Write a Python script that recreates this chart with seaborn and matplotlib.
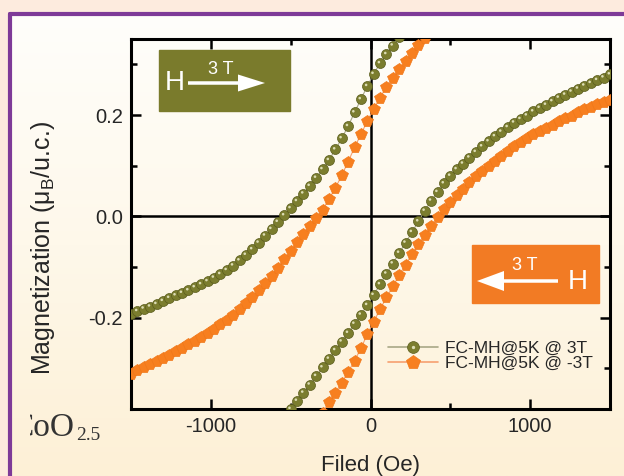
import numpy as np
import pandas as pd
import matplotlib
matplotlib.use("Agg")
import matplotlib.pyplot as plt
import seaborn as sns
from matplotlib.patches import Rectangle, FancyArrow
from matplotlib.lines import Line2D
from matplotlib.colors import LinearSegmentedColormap
from matplotlib.transforms import Affine2D, Bbox, TransformedBbox, offset_copy
from matplotlib.ticker import MultipleLocator, FormatStrFormatter

# ---------------------------------------------------------------- data
# FC-MH @ 5 K, cooled in +3 T : descending (upper) branch
field_p3T_down = [-1500, -1460, -1420, -1380, -1340, -1300, -1260, -1220, -1180, -1140,
                  -1100, -1060, -1020, -980, -940, -900, -860, -820, -780, -740,
                  -700, -660, -620, -580, -540, -500, -460, -420, -380, -340,
                  -300, -260, -220, -180, -140, -100, -60, -20, 20, 60,
                  100, 140, 180, 220]
m_p3T_down = [-0.192, -0.187, -0.182, -0.178, -0.173, -0.167, -0.161, -0.156, -0.151, -0.146,
              -0.140, -0.134, -0.128, -0.121, -0.114, -0.106, -0.097, -0.087, -0.076, -0.065,
              -0.052, -0.038, -0.025, -0.011, 0.002, 0.016, 0.030, 0.045, 0.060, 0.076,
              0.093, 0.111, 0.132, 0.154, 0.178, 0.205, 0.231, 0.257, 0.281, 0.302,
              0.320, 0.337, 0.354, 0.372]

# +3 T : ascending (lower) branch
field_p3T_up = [-540, -500, -460, -420, -380, -340, -300, -260, -220, -180,
                -140, -100, -60, -20, 20, 60, 100, 140, 180, 220,
                260, 300, 340, 380, 420, 460, 500, 540, 580, 620,
                660, 700, 740, 780, 820, 860, 900, 940, 980, 1020,
                1060, 1100, 1140, 1180, 1220, 1260, 1300, 1340, 1380, 1420,
                1460, 1500]
m_p3T_up = [-0.396, -0.380, -0.364, -0.348, -0.332, -0.315, -0.298, -0.281, -0.264, -0.247,
            -0.230, -0.212, -0.194, -0.175, -0.155, -0.134, -0.113, -0.093, -0.072, -0.052,
            -0.031, -0.010, 0.011, 0.031, 0.048, 0.065, 0.080, 0.093, 0.104, 0.116,
            0.127, 0.138, 0.148, 0.158, 0.167, 0.176, 0.185, 0.192, 0.199, 0.207,
            0.214, 0.220, 0.227, 0.234, 0.240, 0.246, 0.252, 0.258, 0.263, 0.269,
            0.274, 0.280]

# FC-MH @ 5 K, cooled in -3 T : descending branch
field_m3T_down = [-1500, -1460, -1420, -1380, -1340, -1300, -1260, -1220, -1180, -1140,
                  -1100, -1060, -1020, -980, -940, -900, -860, -820, -780, -740,
                  -700, -660, -620, -580, -540, -500, -460, -420, -380, -340,
                  -300, -260, -220, -180, -140, -100, -60, -20, 20, 60,
                  100, 140, 180, 220, 260, 300, 340, 380]
m_m3T_down = [-0.310, -0.304, -0.298, -0.292, -0.285, -0.279, -0.273, -0.266, -0.259, -0.252,
              -0.245, -0.238, -0.230, -0.222, -0.213, -0.204, -0.194, -0.183, -0.171, -0.159,
              -0.146, -0.132, -0.117, -0.102, -0.085, -0.068, -0.051, -0.034, -0.018, -0.003,
              0.013, 0.034, 0.056, 0.081, 0.108, 0.136, 0.162, 0.188, 0.212, 0.234,
              0.256, 0.274, 0.290, 0.306, 0.322, 0.338, 0.352, 0.366]

# -3 T : ascending branch
field_m3T_up = [-340, -300, -260, -220, -180, -140, -100, -60, -20, 20,
                60, 100, 140, 180, 220, 260, 300, 340, 380, 420,
                460, 500, 540, 580, 620, 660, 700, 740, 780, 820,
                860, 900, 940, 980, 1020, 1060, 1100, 1140, 1180, 1220,
                1260, 1300, 1340, 1380, 1420, 1460, 1500]
m_m3T_up = [-0.407, -0.387, -0.367, -0.348, -0.328, -0.307, -0.285, -0.260, -0.233, -0.208,
            -0.183, -0.160, -0.138, -0.116, -0.095, -0.075, -0.055, -0.037, -0.019, -0.002,
            0.014, 0.028, 0.042, 0.055, 0.068, 0.079, 0.090, 0.100, 0.110, 0.120,
            0.129, 0.138, 0.146, 0.154, 0.162, 0.169, 0.175, 0.181, 0.188, 0.194,
            0.199, 0.205, 0.211, 0.216, 0.221, 0.225, 0.230]

series_labels = ["FC-MH@5K @ 3T", "FC-MH@5K @ -3T"]
x_ticks = [-1000, 0, 1000]
y_ticks = [-0.2, 0.0, 0.2]

# ---------------------------------------------------------------- style
sns.set_style("ticks")
plt.rcParams["font.family"] = ["Liberation Sans", "DejaVu Sans"]
plt.rcParams["axes.unicode_minus"] = False
plt.rcParams["mathtext.fontset"] = "custom"
plt.rcParams["mathtext.rm"] = "Liberation Sans"
plt.rcParams["mathtext.it"] = "Liberation Sans:italic"

PEACH = "#fdebde"
PURPLE = "#7e3a98"
OLIVE = "#7b7d2e"
OLIVE_EDGE = "#5a5c1c"
OLIVE_HI = "#dcdcb4"
OLIVE_BOX = "#7a7b2c"
ORANGE = "#f77f1f"
ORANGE_BOX = "#f27b24"

W, H = 624, 476
fig = plt.figure(figsize=(W / 100, H / 100), dpi=100)
fig.patch.set_facecolor(PEACH)
px = Affine2D().scale(1 / fig.dpi) + fig.dpi_scale_trans  # pixel units -> display


def fy(y):
    """Convert a top-origin pixel row to a bottom-origin one."""
    return H - y


# cream panel with a soft vertical gradient and a purple frame
bg = fig.add_axes([10 / W, 0, 1 - 10 / W, fy(14) / H], zorder=0)
cmap = LinearSegmentedColormap.from_list("panel", ["#fffefb", "#fef8ea", "#fdf0d6"])
bg.imshow(np.linspace(0, 1, 256)[:, None], aspect="auto", cmap=cmap,
          extent=[0, 1, 0, 1], origin="upper")
bg.axis("off")
fig.add_artist(Line2D([10, 10], [0, fy(14)], transform=px, color=PURPLE, lw=3, zorder=1))
fig.add_artist(Line2D([10, W], [fy(14), fy(14)], transform=px, color=PURPLE, lw=3, zorder=1))

# ---------------------------------------------------------------- main axes
ax = fig.add_axes([131 / W, fy(409) / H, (610 - 131) / W, (409 - 39) / H], zorder=2)
ax.set_facecolor("none")

ax.axhline(0, color="black", lw=1.8, zorder=1)
ax.axvline(0, color="black", lw=1.8, zorder=1)

# -3 T cooled loop (orange pentagons)
for f, m in [(field_m3T_down, m_m3T_down), (field_m3T_up, m_m3T_up)]:
    sns.lineplot(x=f, y=m, ax=ax, sort=False, estimator=None, color="#f6a070",
                 lw=0.8, marker="p", markersize=8.5, markerfacecolor=ORANGE,
                 markeredgecolor="#f0781a", markeredgewidth=0.5, zorder=3)

# +3 T cooled loop (olive spheres, highlight nudged up-left)
shine = offset_copy(ax.transData, fig=fig, x=-1.2, y=1.2, units="dots")
for f, m in [(field_p3T_down, m_p3T_down), (field_p3T_up, m_p3T_up)]:
    sns.lineplot(x=f, y=m, ax=ax, sort=False, estimator=None, color="#a8a886",
                 lw=0.8, marker="o", markersize=7.2, markerfacecolor=OLIVE,
                 markeredgecolor=OLIVE_EDGE, markeredgewidth=0.5, zorder=4)
    sns.scatterplot(x=f, y=m, ax=ax, s=3.5, color=OLIVE_HI, edgecolor="none",
                    zorder=5, legend=False, transform=shine)

ax.set_xlim(-1500, 1500)
ax.set_ylim(-0.38, 0.35)
ax.set_xticks(x_ticks)
ax.set_yticks(y_ticks)
ax.xaxis.set_minor_locator(MultipleLocator(500))
ax.yaxis.set_minor_locator(MultipleLocator(0.1))
ax.yaxis.set_major_formatter(FormatStrFormatter("%.1f"))
ax.tick_params(which="both", direction="in", top=True, right=True, width=1.8,
               color="black", labelsize=14.5, pad=6)
ax.tick_params(which="major", length=7)
ax.tick_params(which="minor", length=4.5)
for s in ax.spines.values():
    s.set_linewidth(2.2)
    s.set_color("black")

ax.set_xlabel("Filed (Oe)", fontsize=16)
ax.set_ylabel("Magnetization (μ$_\\mathrm{B}$/u.c.)", fontsize=18)
ax.xaxis.set_label_coords(0.5, -0.125)
ax.yaxis.set_label_coords(-0.155, 0.435)

# legend: lighter connecting line through each marker
h_p3T = (Line2D([], [], color="#a8a886", lw=1.2),
         Line2D([], [], ls="none", marker="o", markersize=8.5, markerfacecolor=OLIVE,
                markeredgecolor=OLIVE_EDGE, markeredgewidth=0.5),
         Line2D([], [], ls="none", marker="o", markersize=2.4, markerfacecolor=OLIVE_HI,
                markeredgecolor="none"))
h_m3T = (Line2D([], [], color="#f6a070", lw=1.2),
         Line2D([], [], ls="none", marker="p", markersize=10, markerfacecolor=ORANGE,
                markeredgecolor="#f0781a", markeredgewidth=0.5))
ax.legend([h_p3T, h_m3T], series_labels, loc="upper left",
          bbox_to_anchor=(388 / W, fy(341) / H), bbox_transform=fig.transFigure,
          frameon=False, fontsize=12.5, handlelength=2.9, handletextpad=0.4,
          labelspacing=0.0, borderpad=0, borderaxespad=0)

# ---------------------------------------------------------------- field-direction boxes
fig.add_artist(Rectangle((159, fy(111)), 131, 61, transform=px, color=OLIVE_BOX, zorder=5))
fig.add_artist(FancyArrow(188, fy(83), 77, 0, width=3.5, head_width=17, head_length=27,
                          length_includes_head=True, transform=px, color="white", lw=0,
                          zorder=6))
fig.text(175, fy(83), "H", transform=px, color="white", fontsize=20,
         ha="center", va="center", zorder=6)
fig.text(221, fy(69), "3 T", transform=px, color="white", fontsize=13,
         ha="center", va="center", zorder=6)

fig.add_artist(Rectangle((472, fy(303)), 127, 58, transform=px, color=ORANGE_BOX, zorder=5))
fig.add_artist(FancyArrow(558, fy(281), -81, 0, width=3.5, head_width=20, head_length=27,
                          length_includes_head=True, transform=px, color="white", lw=0,
                          zorder=6))
fig.text(578, fy(282), "H", transform=px, color="white", fontsize=20,
         ha="center", va="center", zorder=6)
fig.text(525, fy(265), "3 T", transform=px, color="white", fontsize=13,
         ha="center", va="center", zorder=6)

# ---------------------------------------------------------------- compound label
clip = TransformedBbox(Bbox([[30, 0], [200, H]]), px)
t1 = fig.text(12, fy(436), "CoO", transform=px, fontsize=24, color="#333333",
              family=["Liberation Serif", "DejaVu Serif"], va="baseline", ha="left",
              zorder=6)
t1.set_clip_box(clip)
t1.set_clip_on(True)
fig.text(76, fy(440), "2.5", transform=px, fontsize=14, color="#333333",
         family=["Liberation Serif", "DejaVu Serif"], va="baseline", ha="left", zorder=6)

fig.savefig("out.png", dpi=100, facecolor=fig.get_facecolor())
